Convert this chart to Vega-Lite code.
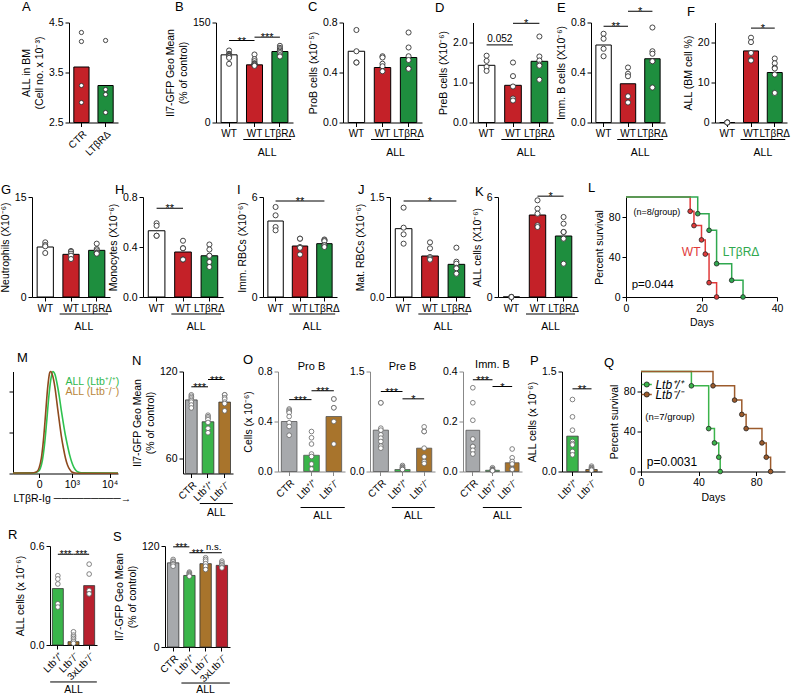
{
"$schema":"https://vega.github.io/schema/vega-lite/v6.json",
"autosize":{"type":"none"},
"padding":{"left":13,"top":22.5,"right":785,"bottom":671.5},
"background":"white",
"bounds":"flush",
"spacing":174.5,
"resolve":{"scale":{"color":"independent","fill":"independent","stroke":"independent"}},
"config":{
"font":"Liberation Sans",
"view":{"stroke":null},
"axis":{"grid":false,"domainColor":"black","tickColor":"black","labelColor":"black","titleColor":"black","labelFontSize":10.5,"titleFontSize":10.5,"titleFontWeight":"normal","tickSize":4,"labelPadding":2,"titlePadding":4,"labelFlush":false,"labelOverlap":false,"labelFont":"Liberation Sans","titleFont":"Liberation Sans"},
"axisBand":{"labelFontSize":10},
"title":{"anchor":"start","frame":"group","fontSize":13,"fontWeight":"normal","offset":3,"color":"black","font":"Liberation Sans"},
"text":{"font":"Liberation Sans","color":"black"},
"rule":{"color":"black"},
"legend":{"labelFont":"Liberation Sans"}
},
"vconcat":[
{"bounds":"flush","spacing":0,"resolve":{"scale":{"color":"independent","fill":"independent","stroke":"independent"}},
"hconcat":[
{"width":56,"height":1,"data":{"values":[]},"mark":"point"},
{"width":49,"height":100,"title":{"text":"A","dx":-47,"dy":-1},
"encoding":{"x":{"field":"g","type":"nominal","scale":{"domain":["CTR","LTβRΔ"],"paddingInner":0.37,"paddingOuter":0.2},"axis":{"title":null,"labelAngle":-45}}},
"layer":[
{"data":{"values":[{"g":"CTR","v":3.61},{"g":"LTβRΔ","v":3.24}]},"mark":{"type":"bar","stroke":"black","strokeWidth":1},
"encoding":{"y":{"field":"v","type":"quantitative","scale":{"domain":[2.5,4.5],"nice":false,"zero":false},"axis":{"values":[2.5,3,3.5,4,4.5],"format":".1f","title":["ALL in BM","(Cell no. x 10⁻³)"]}},"y2":{"datum":2.5},
"color":{"field":"g","type":"nominal","scale":{"domain":["CTR","LTβRΔ"],"range":["#c42128","#1e8e3e"]},"legend":null}}},
{"data":{"values":[{"g":"CTR","v":4.3},{"g":"CTR","v":4.12},{"g":"CTR","v":3.24},{"g":"CTR","v":2.9},{"g":"LTβRΔ","v":4.14},{"g":"LTβRΔ","v":3.16},{"g":"LTβRΔ","v":3.06},{"g":"LTβRΔ","v":2.7}]},
"mark":{"type":"point","fill":"white","stroke":"#333","strokeWidth":0.9,"size":18,"opacity":1},"encoding":{"y":{"field":"v","type":"quantitative"}}}
]},
{"width":98,"height":1,"data":{"values":[]},"mark":"point"},
{"width":77,"height":100,"title":{"text":"B","dx":-41,"dy":-1},
"encoding":{"x":{"field":"g","type":"nominal","scale":{"domain":["WT","ALL WT","ALL LTβRΔ"],"paddingInner":0.37,"paddingOuter":0.2},"axis":{"title":null,"labelAngle":0,"labelExpr":"replace(datum.label, 'ALL ', '')"}}},
"layer":[
{"data":{"values":[{"g":"WT","v":101.5},{"g":"ALL WT","v":86.5},{"g":"ALL LTβRΔ","v":106.5}]},"mark":{"type":"bar","stroke":"black","strokeWidth":1},
"encoding":{"y":{"field":"v","type":"quantitative","scale":{"domain":[0,150],"nice":false},"axis":{"values":[0,50,100,150],"title":["Il7-GFP Geo Mean","(% of control)"]}},
"color":{"field":"g","type":"nominal","scale":{"domain":["WT","ALL WT","ALL LTβRΔ"],"range":["white","#c42128","#1e8e3e"]},"legend":null}}},
{"data":{"values":[{"g":"WT","v":108},{"g":"WT","v":103},{"g":"WT","v":102},{"g":"WT","v":101},{"g":"WT","v":100},{"g":"WT","v":99},{"g":"WT","v":97},{"g":"WT","v":88},
{"g":"ALL WT","v":102},{"g":"ALL WT","v":95},{"g":"ALL WT","v":92},{"g":"ALL WT","v":89},{"g":"ALL WT","v":88},{"g":"ALL WT","v":87},{"g":"ALL WT","v":86},{"g":"ALL WT","v":85},
{"g":"ALL LTβRΔ","v":115},{"g":"ALL LTβRΔ","v":112},{"g":"ALL LTβRΔ","v":110},{"g":"ALL LTβRΔ","v":108},{"g":"ALL LTβRΔ","v":106},{"g":"ALL LTβRΔ","v":104},{"g":"ALL LTβRΔ","v":101},{"g":"ALL LTβRΔ","v":99}]},
"mark":{"type":"point","fill":"white","stroke":"#333","strokeWidth":0.9,"size":26,"opacity":1},"encoding":{"y":{"field":"v","type":"quantitative"}}},
{"data":{"values":[{"g":"WT","g2":"ALL WT","v":123,"t":"**"},{"g":"ALL WT","g2":"ALL LTβRΔ","v":128,"t":"***"}]},"mark":{"type":"rule","color":"black"},"encoding":{"x2":{"field":"g2"},"y":{"field":"v","type":"quantitative"}}},
{"data":{"values":[{"g":"WT","g2":"ALL WT","v":123,"t":"**"},{"g":"ALL WT","g2":"ALL LTβRΔ","v":128,"t":"***"}]},"mark":{"type":"text","baseline":"alphabetic","dy":4,"fontSize":11},
"encoding":{"x":{"field":"g","type":"nominal","bandPosition":1.294,"scale":{"domain":["WT","ALL WT","ALL LTβRΔ"],"paddingInner":0.37,"paddingOuter":0.2},"axis":{"title":null,"labelAngle":0,"labelExpr":"replace(datum.label, 'ALL ', '')"}},"y":{"field":"v","type":"quantitative"},"text":{"field":"t"}}},
{"data":{"values":[{"g":"ALL WT","g2":"ALL LTβRΔ"}]},"mark":{"type":"rule","color":"black"},
"encoding":{"x":{"field":"g","type":"nominal","bandPosition":-0.2,"scale":{"domain":["WT","ALL WT","ALL LTβRΔ"],"paddingInner":0.37,"paddingOuter":0.2},"axis":{"title":null,"labelAngle":0,"labelExpr":"replace(datum.label, 'ALL ', '')"}},"x2":{"field":"g2","bandPosition":1.2},"y":{"datum":-25.5}}},
{"data":{"values":[{"g":"ALL WT"}]},"mark":{"type":"text","baseline":"middle","fontSize":10.5},
"encoding":{"x":{"field":"g","type":"nominal","bandPosition":1.294,"scale":{"domain":["WT","ALL WT","ALL LTβRΔ"],"paddingInner":0.37,"paddingOuter":0.2},"axis":{"title":null,"labelAngle":0,"labelExpr":"replace(datum.label, 'ALL ', '')"}},"y":{"datum":-45},"text":{"value":"ALL"}}}
]},
{"width":50,"height":1,"data":{"values":[]},"mark":"point"},
{"width":79,"height":100,"title":{"text":"C","dx":-35,"dy":-1},
"encoding":{"x":{"field":"g","type":"nominal","scale":{"domain":["WT","ALL WT","ALL LTβRΔ"],"paddingInner":0.37,"paddingOuter":0.2},"axis":{"title":null,"labelAngle":0,"labelExpr":"replace(datum.label, 'ALL ', '')"}}},
"layer":[
{"data":{"values":[{"g":"WT","v":0.57},{"g":"ALL WT","v":0.44},{"g":"ALL LTβRΔ","v":0.52}]},"mark":{"type":"bar","stroke":"black","strokeWidth":1},
"encoding":{"y":{"field":"v","type":"quantitative","scale":{"domain":[0,0.8],"nice":false},"axis":{"values":[0,0.2,0.4,0.6,0.8],"format":".1f","title":"ProB cells (x10⁻⁵)"}},
"color":{"field":"g","type":"nominal","scale":{"domain":["WT","ALL WT","ALL LTβRΔ"],"range":["white","#c42128","#1e8e3e"]},"legend":null}}},
{"data":{"values":[{"g":"WT","v":0.74},{"g":"WT","v":0.57},{"g":"WT","v":0.48},{"g":"WT","v":0.48},
{"g":"ALL WT","v":0.53},{"g":"ALL WT","v":0.52},{"g":"ALL WT","v":0.47},{"g":"ALL WT","v":0.45},{"g":"ALL WT","v":0.41},
{"g":"ALL LTβRΔ","v":0.72},{"g":"ALL LTβRΔ","v":0.6},{"g":"ALL LTβRΔ","v":0.53},{"g":"ALL LTβRΔ","v":0.5},{"g":"ALL LTβRΔ","v":0.43},{"g":"ALL LTβRΔ","v":0.43}]},
"mark":{"type":"point","fill":"white","stroke":"#333","strokeWidth":0.9,"size":26,"opacity":1},"encoding":{"y":{"field":"v","type":"quantitative"}}},
{"data":{"values":[{"g":"ALL WT","g2":"ALL LTβRΔ"}]},"mark":{"type":"rule","color":"black"},
"encoding":{"x":{"field":"g","type":"nominal","bandPosition":-0.2,"scale":{"domain":["WT","ALL WT","ALL LTβRΔ"],"paddingInner":0.37,"paddingOuter":0.2},"axis":{"title":null,"labelAngle":0,"labelExpr":"replace(datum.label, 'ALL ', '')"}},"x2":{"field":"g2","bandPosition":1.2},"y":{"datum":-0.136}}},
{"data":{"values":[{"g":"ALL WT"}]},"mark":{"type":"text","baseline":"middle","fontSize":10.5},
"encoding":{"x":{"field":"g","type":"nominal","bandPosition":1.294,"scale":{"domain":["WT","ALL WT","ALL LTβRΔ"],"paddingInner":0.37,"paddingOuter":0.2},"axis":{"title":null,"labelAngle":0,"labelExpr":"replace(datum.label, 'ALL ', '')"}},"y":{"datum":-0.24},"text":{"value":"ALL"}}}
]},
{"width":51,"height":1,"data":{"values":[]},"mark":"point"},
{"width":80,"height":100,"title":{"text":"D","dx":-38,"dy":0},
"encoding":{"x":{"field":"g","type":"nominal","scale":{"domain":["WT","ALL WT","ALL LTβRΔ"],"paddingInner":0.37,"paddingOuter":0.2},"axis":{"title":null,"labelAngle":0,"labelExpr":"replace(datum.label, 'ALL ', '')"}}},
"layer":[
{"data":{"values":[{"g":"WT","v":1.43},{"g":"ALL WT","v":0.93},{"g":"ALL LTβRΔ","v":1.53}]},"mark":{"type":"bar","stroke":"black","strokeWidth":1},
"encoding":{"y":{"field":"v","type":"quantitative","scale":{"domain":[0,2.5],"nice":false},"axis":{"values":[0,0.5,1,1.5,2,2.5],"format":".1f","title":"PreB cells (X10⁻⁶)"}},
"color":{"field":"g","type":"nominal","scale":{"domain":["WT","ALL WT","ALL LTβRΔ"],"range":["white","#c42128","#1e8e3e"]},"legend":null}}},
{"data":{"values":[{"g":"WT","v":1.67},{"g":"WT","v":1.54},{"g":"WT","v":1.39},{"g":"WT","v":1.29},
{"g":"ALL WT","v":1.5},{"g":"ALL WT","v":1.16},{"g":"ALL WT","v":0.9},{"g":"ALL WT","v":0.6},{"g":"ALL WT","v":0.55},
{"g":"ALL LTβRΔ","v":2.15},{"g":"ALL LTβRΔ","v":1.65},{"g":"ALL LTβRΔ","v":1.55},{"g":"ALL LTβRΔ","v":1.45},{"g":"ALL LTβRΔ","v":1.42},{"g":"ALL LTβRΔ","v":1.07}]},
"mark":{"type":"point","fill":"white","stroke":"#333","strokeWidth":0.9,"size":26,"opacity":1},"encoding":{"y":{"field":"v","type":"quantitative"}}},
{"data":{"values":[{"g":"WT","g2":"ALL WT","v":1.94,"t":"0.052"},{"g":"ALL WT","g2":"ALL LTβRΔ","v":2.48,"t":"*"}]},"mark":{"type":"rule","color":"black"},"encoding":{"x2":{"field":"g2"},"y":{"field":"v","type":"quantitative"}}},
{"data":{"values":[{"g":"WT","g2":"ALL WT","v":1.94,"t":"0.052"},{"g":"ALL WT","g2":"ALL LTβRΔ","v":2.48,"t":"*"}]},"transform":[{"filter":"datum.t == '*'"}],"mark":{"type":"text","baseline":"alphabetic","dy":4,"fontSize":11},
"encoding":{"x":{"field":"g","type":"nominal","bandPosition":1.294,"scale":{"domain":["WT","ALL WT","ALL LTβRΔ"],"paddingInner":0.37,"paddingOuter":0.2},"axis":{"title":null,"labelAngle":0,"labelExpr":"replace(datum.label, 'ALL ', '')"}},"y":{"field":"v","type":"quantitative"},"text":{"field":"t"}}},
{"data":{"values":[{"g":"WT","g2":"ALL WT","v":1.94,"t":"0.052"},{"g":"ALL WT","g2":"ALL LTβRΔ","v":2.48,"t":"*"}]},"transform":[{"filter":"datum.t != '*'"}],"mark":{"type":"text","baseline":"bottom","dy":-1,"fontSize":10},
"encoding":{"x":{"field":"g","type":"nominal","bandPosition":1.294,"scale":{"domain":["WT","ALL WT","ALL LTβRΔ"],"paddingInner":0.37,"paddingOuter":0.2},"axis":{"title":null,"labelAngle":0,"labelExpr":"replace(datum.label, 'ALL ', '')"}},"y":{"field":"v","type":"quantitative"},"text":{"field":"t"}}},
{"data":{"values":[{"g":"ALL WT","g2":"ALL LTβRΔ"}]},"mark":{"type":"rule","color":"black"},
"encoding":{"x":{"field":"g","type":"nominal","bandPosition":-0.2,"scale":{"domain":["WT","ALL WT","ALL LTβRΔ"],"paddingInner":0.37,"paddingOuter":0.2},"axis":{"title":null,"labelAngle":0,"labelExpr":"replace(datum.label, 'ALL ', '')"}},"x2":{"field":"g2","bandPosition":1.2},"y":{"datum":-0.425}}},
{"data":{"values":[{"g":"ALL WT"}]},"mark":{"type":"text","baseline":"middle","fontSize":10.5},
"encoding":{"x":{"field":"g","type":"nominal","bandPosition":1.294,"scale":{"domain":["WT","ALL WT","ALL LTβRΔ"],"paddingInner":0.37,"paddingOuter":0.2},"axis":{"title":null,"labelAngle":0,"labelExpr":"replace(datum.label, 'ALL ', '')"}},"y":{"datum":-0.75},"text":{"value":"ALL"}}}
]},
{"width":38,"height":1,"data":{"values":[]},"mark":"point"},
{"width":74,"height":100,"title":{"text":"E","dx":-34,"dy":12},
"encoding":{"x":{"field":"g","type":"nominal","scale":{"domain":["WT","ALL WT","ALL LTβRΔ"],"paddingInner":0.37,"paddingOuter":0.2},"axis":{"title":null,"labelAngle":0,"labelExpr":"replace(datum.label, 'ALL ', '')"}}},
"layer":[
{"data":{"values":[{"g":"WT","v":0.62},{"g":"ALL WT","v":0.31},{"g":"ALL LTβRΔ","v":0.51}]},"mark":{"type":"bar","stroke":"black","strokeWidth":1},
"encoding":{"y":{"field":"v","type":"quantitative","scale":{"domain":[0,0.8],"nice":false},"axis":{"values":[0,0.2,0.4,0.6,0.8],"format":".1f","title":"Imm. B cells (X10⁻⁶)"}},
"color":{"field":"g","type":"nominal","scale":{"domain":["WT","ALL WT","ALL LTβRΔ"],"range":["white","#c42128","#1e8e3e"]},"legend":null}}},
{"data":{"values":[{"g":"WT","v":0.71},{"g":"WT","v":0.67},{"g":"WT","v":0.59},{"g":"WT","v":0.53},
{"g":"ALL WT","v":0.44},{"g":"ALL WT","v":0.39},{"g":"ALL WT","v":0.37},{"g":"ALL WT","v":0.21},{"g":"ALL WT","v":0.16},
{"g":"ALL LTβRΔ","v":0.76},{"g":"ALL LTβRΔ","v":0.57},{"g":"ALL LTβRΔ","v":0.55},{"g":"ALL LTβRΔ","v":0.49},{"g":"ALL LTβRΔ","v":0.49},{"g":"ALL LTβRΔ","v":0.28}]},
"mark":{"type":"point","fill":"white","stroke":"#333","strokeWidth":0.9,"size":26,"opacity":1},"encoding":{"y":{"field":"v","type":"quantitative"}}},
{"data":{"values":[{"g":"WT","g2":"ALL WT","v":0.77,"t":"**"},{"g":"ALL WT","g2":"ALL LTβRΔ","v":0.89,"t":"*"}]},"mark":{"type":"rule","color":"black"},"encoding":{"x2":{"field":"g2"},"y":{"field":"v","type":"quantitative"}}},
{"data":{"values":[{"g":"WT","g2":"ALL WT","v":0.77,"t":"**"},{"g":"ALL WT","g2":"ALL LTβRΔ","v":0.89,"t":"*"}]},"mark":{"type":"text","baseline":"alphabetic","dy":4,"fontSize":11},
"encoding":{"x":{"field":"g","type":"nominal","bandPosition":1.294,"scale":{"domain":["WT","ALL WT","ALL LTβRΔ"],"paddingInner":0.37,"paddingOuter":0.2},"axis":{"title":null,"labelAngle":0,"labelExpr":"replace(datum.label, 'ALL ', '')"}},"y":{"field":"v","type":"quantitative"},"text":{"field":"t"}}},
{"data":{"values":[{"g":"ALL WT","g2":"ALL LTβRΔ"}]},"mark":{"type":"rule","color":"black"},
"encoding":{"x":{"field":"g","type":"nominal","bandPosition":-0.2,"scale":{"domain":["WT","ALL WT","ALL LTβRΔ"],"paddingInner":0.37,"paddingOuter":0.2},"axis":{"title":null,"labelAngle":0,"labelExpr":"replace(datum.label, 'ALL ', '')"}},"x2":{"field":"g2","bandPosition":1.2},"y":{"datum":-0.136}}},
{"data":{"values":[{"g":"ALL WT"}]},"mark":{"type":"text","baseline":"middle","fontSize":10.5},
"encoding":{"x":{"field":"g","type":"nominal","bandPosition":1.294,"scale":{"domain":["WT","ALL WT","ALL LTβRΔ"],"paddingInner":0.37,"paddingOuter":0.2},"axis":{"title":null,"labelAngle":0,"labelExpr":"replace(datum.label, 'ALL ', '')"}},"y":{"datum":-0.24},"text":{"value":"ALL"}}}
]},
{"width":50,"height":1,"data":{"values":[]},"mark":"point"},
{"width":72,"height":100,"title":{"text":"F","dx":-28,"dy":-1},
"encoding":{"x":{"field":"g","type":"nominal","scale":{"domain":["WT","ALL WT","ALL LTβRΔ"],"paddingInner":0.37,"paddingOuter":0.2},"axis":{"title":null,"labelAngle":0,"labelExpr":"replace(datum.label, 'ALL ', '')"}}},
"layer":[
{"data":{"values":[{"g":"WT","v":0},{"g":"ALL WT","v":17.9},{"g":"ALL LTβRΔ","v":12.5}]},"mark":{"type":"bar","stroke":"black","strokeWidth":1},
"encoding":{"y":{"field":"v","type":"quantitative","scale":{"domain":[0,25],"nice":false},"axis":{"values":[0,5,10,15,20,25],"title":"ALL (BM cell %)"}},
"color":{"field":"g","type":"nominal","scale":{"domain":["WT","ALL WT","ALL LTβRΔ"],"range":["white","#c42128","#1e8e3e"]},"legend":null}}},
{"data":{"values":[{"g":"WT","v":0},{"g":"WT","v":0},{"g":"WT","v":0},{"g":"WT","v":0},
{"g":"ALL WT","v":21.2},{"g":"ALL WT","v":20.1},{"g":"ALL WT","v":17.4},{"g":"ALL WT","v":15.7},{"g":"ALL WT","v":15.5},
{"g":"ALL LTβRΔ","v":16},{"g":"ALL LTβRΔ","v":14.8},{"g":"ALL LTβRΔ","v":13.7},{"g":"ALL LTβRΔ","v":13.5},{"g":"ALL LTβRΔ","v":12},{"g":"ALL LTβRΔ","v":7.4}]},
"mark":{"type":"point","fill":"white","stroke":"#333","strokeWidth":0.9,"size":26,"opacity":1},"encoding":{"y":{"field":"v","type":"quantitative"}}},
{"data":{"values":[{"g":"ALL WT","g2":"ALL LTβRΔ","v":23.6,"t":"*"}]},"mark":{"type":"rule","color":"black"},"encoding":{"x2":{"field":"g2"},"y":{"field":"v","type":"quantitative"}}},
{"data":{"values":[{"g":"ALL WT","g2":"ALL LTβRΔ","v":23.6,"t":"*"}]},"mark":{"type":"text","baseline":"alphabetic","dy":4,"fontSize":11},
"encoding":{"x":{"field":"g","type":"nominal","bandPosition":1.294,"scale":{"domain":["WT","ALL WT","ALL LTβRΔ"],"paddingInner":0.37,"paddingOuter":0.2},"axis":{"title":null,"labelAngle":0,"labelExpr":"replace(datum.label, 'ALL ', '')"}},"y":{"field":"v","type":"quantitative"},"text":{"field":"t"}}},
{"data":{"values":[{"g":"ALL WT","g2":"ALL LTβRΔ"}]},"mark":{"type":"rule","color":"black"},
"encoding":{"x":{"field":"g","type":"nominal","bandPosition":-0.2,"scale":{"domain":["WT","ALL WT","ALL LTβRΔ"],"paddingInner":0.37,"paddingOuter":0.2},"axis":{"title":null,"labelAngle":0,"labelExpr":"replace(datum.label, 'ALL ', '')"}},"x2":{"field":"g2","bandPosition":1.2},"y":{"datum":-4.25}}},
{"data":{"values":[{"g":"ALL WT"}]},"mark":{"type":"text","baseline":"middle","fontSize":10.5},
"encoding":{"x":{"field":"g","type":"nominal","bandPosition":1.294,"scale":{"domain":["WT","ALL WT","ALL LTβRΔ"],"paddingInner":0.37,"paddingOuter":0.2},"axis":{"title":null,"labelAngle":0,"labelExpr":"replace(datum.label, 'ALL ', '')"}},"y":{"datum":-7.5},"text":{"value":"ALL"}}}
]}
]},

{"bounds":"flush","spacing":0,"resolve":{"scale":{"color":"independent","fill":"independent","stroke":"independent"}},
"hconcat":[
{"width":19,"height":1,"data":{"values":[]},"mark":"point"},
{"width":78,"height":100,"title":{"text":"G","dx":-31,"dy":7.5},
"encoding":{"x":{"field":"g","type":"nominal","scale":{"domain":["WT","ALL WT","ALL LTβRΔ"],"paddingInner":0.37,"paddingOuter":0.2},"axis":{"title":null,"labelAngle":0,"labelExpr":"replace(datum.label, 'ALL ', '')"}}},
"layer":[
{"data":{"values":[{"g":"WT","v":7.5},{"g":"ALL WT","v":6.4},{"g":"ALL LTβRΔ","v":7.0}]},"mark":{"type":"bar","stroke":"black","strokeWidth":1},
"encoding":{"y":{"field":"v","type":"quantitative","scale":{"domain":[0,15],"nice":false},"axis":{"values":[0,5,10,15],"title":"Neutrophils (X10⁻⁶)"}},
"color":{"field":"g","type":"nominal","scale":{"domain":["WT","ALL WT","ALL LTβRΔ"],"range":["white","#c42128","#1e8e3e"]},"legend":null}}},
{"data":{"values":[{"g":"WT","v":8.2},{"g":"WT","v":7.8},{"g":"WT","v":7.6},{"g":"WT","v":6.6},
{"g":"ALL WT","v":6.9},{"g":"ALL WT","v":6.8},{"g":"ALL WT","v":6.5},{"g":"ALL WT","v":6.2},{"g":"ALL WT","v":5.7},
{"g":"ALL LTβRΔ","v":8.0},{"g":"ALL LTβRΔ","v":7.2},{"g":"ALL LTβRΔ","v":7.0},{"g":"ALL LTβRΔ","v":6.7},{"g":"ALL LTβRΔ","v":6.6},{"g":"ALL LTβRΔ","v":6.5}]},
"mark":{"type":"point","fill":"white","stroke":"#333","strokeWidth":0.9,"size":26,"opacity":1},"encoding":{"y":{"field":"v","type":"quantitative"}}},
{"data":{"values":[{"g":"ALL WT","g2":"ALL LTβRΔ"}]},"mark":{"type":"rule","color":"black"},
"encoding":{"x":{"field":"g","type":"nominal","bandPosition":-0.2,"scale":{"domain":["WT","ALL WT","ALL LTβRΔ"],"paddingInner":0.37,"paddingOuter":0.2},"axis":{"title":null,"labelAngle":0,"labelExpr":"replace(datum.label, 'ALL ', '')"}},"x2":{"field":"g2","bandPosition":1.2},"y":{"datum":-2.55}}},
{"data":{"values":[{"g":"ALL WT"}]},"mark":{"type":"text","baseline":"middle","fontSize":10.5},
"encoding":{"x":{"field":"g","type":"nominal","bandPosition":1.294,"scale":{"domain":["WT","ALL WT","ALL LTβRΔ"],"paddingInner":0.37,"paddingOuter":0.2},"axis":{"title":null,"labelAngle":0,"labelExpr":"replace(datum.label, 'ALL ', '')"}},"y":{"datum":-4.5},"text":{"value":"ALL"}}}
]},
{"width":33,"height":1,"data":{"values":[]},"mark":"point"},
{"width":80,"height":100,"title":{"text":"H","dx":-28,"dy":7.5},
"encoding":{"x":{"field":"g","type":"nominal","scale":{"domain":["WT","ALL WT","ALL LTβRΔ"],"paddingInner":0.37,"paddingOuter":0.2},"axis":{"title":null,"labelAngle":0,"labelExpr":"replace(datum.label, 'ALL ', '')"}}},
"layer":[
{"data":{"values":[{"g":"WT","v":0.53},{"g":"ALL WT","v":0.36},{"g":"ALL LTβRΔ","v":0.33}]},"mark":{"type":"bar","stroke":"black","strokeWidth":1},
"encoding":{"y":{"field":"v","type":"quantitative","scale":{"domain":[0,0.8],"nice":false},"axis":{"values":[0,0.2,0.4,0.6,0.8],"format":".1f","title":"Monocytes (X10⁻⁶)"}},
"color":{"field":"g","type":"nominal","scale":{"domain":["WT","ALL WT","ALL LTβRΔ"],"range":["white","#c42128","#1e8e3e"]},"legend":null}}},
{"data":{"values":[{"g":"WT","v":0.59},{"g":"WT","v":0.57},{"g":"WT","v":0.49},{"g":"WT","v":0.49},
{"g":"ALL WT","v":0.45},{"g":"ALL WT","v":0.39},{"g":"ALL WT","v":0.39},{"g":"ALL WT","v":0.3},{"g":"ALL WT","v":0.3},
{"g":"ALL LTβRΔ","v":0.42},{"g":"ALL LTβRΔ","v":0.38},{"g":"ALL LTβRΔ","v":0.33},{"g":"ALL LTβRΔ","v":0.33},{"g":"ALL LTβRΔ","v":0.28},{"g":"ALL LTβRΔ","v":0.24}]},
"mark":{"type":"point","fill":"white","stroke":"#333","strokeWidth":0.9,"size":26,"opacity":1},"encoding":{"y":{"field":"v","type":"quantitative"}}},
{"data":{"values":[{"g":"WT","g2":"ALL WT","v":0.71,"t":"**"}]},"mark":{"type":"rule","color":"black"},"encoding":{"x2":{"field":"g2"},"y":{"field":"v","type":"quantitative"}}},
{"data":{"values":[{"g":"WT","g2":"ALL WT","v":0.71,"t":"**"}]},"mark":{"type":"text","baseline":"alphabetic","dy":4,"fontSize":11},
"encoding":{"x":{"field":"g","type":"nominal","bandPosition":1.294,"scale":{"domain":["WT","ALL WT","ALL LTβRΔ"],"paddingInner":0.37,"paddingOuter":0.2},"axis":{"title":null,"labelAngle":0,"labelExpr":"replace(datum.label, 'ALL ', '')"}},"y":{"field":"v","type":"quantitative"},"text":{"field":"t"}}},
{"data":{"values":[{"g":"ALL WT","g2":"ALL LTβRΔ"}]},"mark":{"type":"rule","color":"black"},
"encoding":{"x":{"field":"g","type":"nominal","bandPosition":-0.2,"scale":{"domain":["WT","ALL WT","ALL LTβRΔ"],"paddingInner":0.37,"paddingOuter":0.2},"axis":{"title":null,"labelAngle":0,"labelExpr":"replace(datum.label, 'ALL ', '')"}},"x2":{"field":"g2","bandPosition":1.2},"y":{"datum":-0.136}}},
{"data":{"values":[{"g":"ALL WT"}]},"mark":{"type":"text","baseline":"middle","fontSize":10.5},
"encoding":{"x":{"field":"g","type":"nominal","bandPosition":1.294,"scale":{"domain":["WT","ALL WT","ALL LTβRΔ"],"paddingInner":0.37,"paddingOuter":0.2},"axis":{"title":null,"labelAngle":0,"labelExpr":"replace(datum.label, 'ALL ', '')"}},"y":{"datum":-0.24},"text":{"value":"ALL"}}}
]},
{"width":40,"height":1,"data":{"values":[]},"mark":"point"},
{"width":74,"height":100,"title":{"text":"I","dx":-26,"dy":7.5},
"encoding":{"x":{"field":"g","type":"nominal","scale":{"domain":["WT","ALL WT","ALL LTβRΔ"],"paddingInner":0.37,"paddingOuter":0.2},"axis":{"title":null,"labelAngle":0,"labelExpr":"replace(datum.label, 'ALL ', '')"}}},
"layer":[
{"data":{"values":[{"g":"WT","v":4.56},{"g":"ALL WT","v":3.06},{"g":"ALL LTβRΔ","v":3.2}]},"mark":{"type":"bar","stroke":"black","strokeWidth":1},
"encoding":{"y":{"field":"v","type":"quantitative","scale":{"domain":[0,6],"nice":false},"axis":{"values":[0,2,4,6],"title":"Imm. RBCs (X10⁻⁶)"}},
"color":{"field":"g","type":"nominal","scale":{"domain":["WT","ALL WT","ALL LTβRΔ"],"range":["white","#c42128","#1e8e3e"]},"legend":null}}},
{"data":{"values":[{"g":"WT","v":5.4},{"g":"WT","v":4.9},{"g":"WT","v":4.2},{"g":"WT","v":4.0},
{"g":"ALL WT","v":3.5},{"g":"ALL WT","v":3.5},{"g":"ALL WT","v":3.0},{"g":"ALL WT","v":2.95},{"g":"ALL WT","v":2.55},
{"g":"ALL LTβRΔ","v":3.45},{"g":"ALL LTβRΔ","v":3.4},{"g":"ALL LTβRΔ","v":3.35},{"g":"ALL LTβRΔ","v":3.1},{"g":"ALL LTβRΔ","v":3.1},{"g":"ALL LTβRΔ","v":3.0}]},
"mark":{"type":"point","fill":"white","stroke":"#333","strokeWidth":0.9,"size":26,"opacity":1},"encoding":{"y":{"field":"v","type":"quantitative"}}},
{"data":{"values":[{"g":"WT","g2":"ALL LTβRΔ","v":5.76}]},"mark":{"type":"rule","color":"black"},"encoding":{"x2":{"field":"g2"},"y":{"field":"v","type":"quantitative"}}},
{"data":{"values":[{"g":"ALL WT","v":5.76,"t":"**"}]},"mark":{"type":"text","baseline":"alphabetic","dy":4,"fontSize":11},"encoding":{"y":{"field":"v","type":"quantitative"},"text":{"field":"t"}}},
{"data":{"values":[{"g":"ALL WT","g2":"ALL LTβRΔ"}]},"mark":{"type":"rule","color":"black"},
"encoding":{"x":{"field":"g","type":"nominal","bandPosition":-0.2,"scale":{"domain":["WT","ALL WT","ALL LTβRΔ"],"paddingInner":0.37,"paddingOuter":0.2},"axis":{"title":null,"labelAngle":0,"labelExpr":"replace(datum.label, 'ALL ', '')"}},"x2":{"field":"g2","bandPosition":1.2},"y":{"datum":-1.02}}},
{"data":{"values":[{"g":"ALL WT"}]},"mark":{"type":"text","baseline":"middle","fontSize":10.5},
"encoding":{"x":{"field":"g","type":"nominal","bandPosition":1.294,"scale":{"domain":["WT","ALL WT","ALL LTβRΔ"],"paddingInner":0.37,"paddingOuter":0.2},"axis":{"title":null,"labelAngle":0,"labelExpr":"replace(datum.label, 'ALL ', '')"}},"y":{"datum":-1.8},"text":{"value":"ALL"}}}
]},
{"width":53,"height":1,"data":{"values":[]},"mark":"point"},
{"width":80,"height":100,"title":{"text":"J","dx":-32,"dy":7.5},
"encoding":{"x":{"field":"g","type":"nominal","scale":{"domain":["WT","ALL WT","ALL LTβRΔ"],"paddingInner":0.37,"paddingOuter":0.2},"axis":{"title":null,"labelAngle":0,"labelExpr":"replace(datum.label, 'ALL ', '')"}}},
"layer":[
{"data":{"values":[{"g":"WT","v":1.025},{"g":"ALL WT","v":0.615},{"g":"ALL LTβRΔ","v":0.49}]},"mark":{"type":"bar","stroke":"black","strokeWidth":1},
"encoding":{"y":{"field":"v","type":"quantitative","scale":{"domain":[0,1.5],"nice":false},"axis":{"values":[0,0.5,1,1.5],"format":".1f","title":"Mat. RBCs (X10⁻⁶)"}},
"color":{"field":"g","type":"nominal","scale":{"domain":["WT","ALL WT","ALL LTβRΔ"],"range":["white","#c42128","#1e8e3e"]},"legend":null}}},
{"data":{"values":[{"g":"WT","v":1.34},{"g":"WT","v":1.04},{"g":"WT","v":0.94},{"g":"WT","v":0.8},
{"g":"ALL WT","v":0.82},{"g":"ALL WT","v":0.73},{"g":"ALL WT","v":0.6},{"g":"ALL WT","v":0.58},{"g":"ALL WT","v":0.56},
{"g":"ALL LTβRΔ","v":0.74},{"g":"ALL LTβRΔ","v":0.53},{"g":"ALL LTβRΔ","v":0.5},{"g":"ALL LTβRΔ","v":0.44},{"g":"ALL LTβRΔ","v":0.43},{"g":"ALL LTβRΔ","v":0.35}]},
"mark":{"type":"point","fill":"white","stroke":"#333","strokeWidth":0.9,"size":26,"opacity":1},"encoding":{"y":{"field":"v","type":"quantitative"}}},
{"data":{"values":[{"g":"WT","g2":"ALL LTβRΔ","v":1.44}]},"mark":{"type":"rule","color":"black"},"encoding":{"x2":{"field":"g2"},"y":{"field":"v","type":"quantitative"}}},
{"data":{"values":[{"g":"ALL WT","v":1.44,"t":"*"}]},"mark":{"type":"text","baseline":"alphabetic","dy":4,"fontSize":11},"encoding":{"y":{"field":"v","type":"quantitative"},"text":{"field":"t"}}},
{"data":{"values":[{"g":"ALL WT","g2":"ALL LTβRΔ"}]},"mark":{"type":"rule","color":"black"},
"encoding":{"x":{"field":"g","type":"nominal","bandPosition":-0.2,"scale":{"domain":["WT","ALL WT","ALL LTβRΔ"],"paddingInner":0.37,"paddingOuter":0.2},"axis":{"title":null,"labelAngle":0,"labelExpr":"replace(datum.label, 'ALL ', '')"}},"x2":{"field":"g2","bandPosition":1.2},"y":{"datum":-0.255}}},
{"data":{"values":[{"g":"ALL WT"}]},"mark":{"type":"text","baseline":"middle","fontSize":10.5},
"encoding":{"x":{"field":"g","type":"nominal","bandPosition":1.294,"scale":{"domain":["WT","ALL WT","ALL LTβRΔ"],"paddingInner":0.37,"paddingOuter":0.2},"axis":{"title":null,"labelAngle":0,"labelExpr":"replace(datum.label, 'ALL ', '')"}},"y":{"datum":-0.45},"text":{"value":"ALL"}}}
]},
{"width":28,"height":1,"data":{"values":[]},"mark":"point"},
{"width":79,"height":100,"title":{"text":"K","dx":-23,"dy":10.5},
"encoding":{"x":{"field":"g","type":"nominal","scale":{"domain":["WT","ALL WT","ALL LTβRΔ"],"paddingInner":0.37,"paddingOuter":0.2},"axis":{"title":null,"labelAngle":0,"labelExpr":"replace(datum.label, 'ALL ', '')"}}},
"layer":[
{"data":{"values":[{"g":"WT","v":0},{"g":"ALL WT","v":4.92},{"g":"ALL LTβRΔ","v":3.66}]},"mark":{"type":"bar","stroke":"black","strokeWidth":1},
"encoding":{"y":{"field":"v","type":"quantitative","scale":{"domain":[0,6],"nice":false},"axis":{"values":[0,2,4,6],"title":"ALL cells (X10⁻⁶)"}},
"color":{"field":"g","type":"nominal","scale":{"domain":["WT","ALL WT","ALL LTβRΔ"],"range":["white","#c42128","#1e8e3e"]},"legend":null}}},
{"data":{"values":[{"g":"WT","v":0},{"g":"WT","v":0},{"g":"WT","v":0},{"g":"WT","v":0},
{"g":"ALL WT","v":5.8},{"g":"ALL WT","v":5.3},{"g":"ALL WT","v":5.0},{"g":"ALL WT","v":4.3},{"g":"ALL WT","v":4.2},
{"g":"ALL LTβRΔ","v":4.8},{"g":"ALL LTβRΔ","v":4.4},{"g":"ALL LTβRΔ","v":3.9},{"g":"ALL LTβRΔ","v":3.9},{"g":"ALL LTβRΔ","v":3.5},{"g":"ALL LTβRΔ","v":2.0}]},
"mark":{"type":"point","fill":"white","stroke":"#333","strokeWidth":0.9,"size":26,"opacity":1},"encoding":{"y":{"field":"v","type":"quantitative"}}},
{"data":{"values":[{"g":"ALL WT","g2":"ALL LTβRΔ","v":6.05,"t":"*"}]},"mark":{"type":"rule","color":"black"},"encoding":{"x2":{"field":"g2"},"y":{"field":"v","type":"quantitative"}}},
{"data":{"values":[{"g":"ALL WT","g2":"ALL LTβRΔ","v":6.05,"t":"*"}]},"mark":{"type":"text","baseline":"alphabetic","dy":4,"fontSize":11},
"encoding":{"x":{"field":"g","type":"nominal","bandPosition":1.294,"scale":{"domain":["WT","ALL WT","ALL LTβRΔ"],"paddingInner":0.37,"paddingOuter":0.2},"axis":{"title":null,"labelAngle":0,"labelExpr":"replace(datum.label, 'ALL ', '')"}},"y":{"field":"v","type":"quantitative"},"text":{"field":"t"}}},
{"data":{"values":[{"g":"ALL WT","g2":"ALL LTβRΔ"}]},"mark":{"type":"rule","color":"black"},
"encoding":{"x":{"field":"g","type":"nominal","bandPosition":-0.2,"scale":{"domain":["WT","ALL WT","ALL LTβRΔ"],"paddingInner":0.37,"paddingOuter":0.2},"axis":{"title":null,"labelAngle":0,"labelExpr":"replace(datum.label, 'ALL ', '')"}},"x2":{"field":"g2","bandPosition":1.2},"y":{"datum":-1.02}}},
{"data":{"values":[{"g":"ALL WT"}]},"mark":{"type":"text","baseline":"middle","fontSize":10.5},
"encoding":{"x":{"field":"g","type":"nominal","bandPosition":1.294,"scale":{"domain":["WT","ALL WT","ALL LTβRΔ"],"paddingInner":0.37,"paddingOuter":0.2},"axis":{"title":null,"labelAngle":0,"labelExpr":"replace(datum.label, 'ALL ', '')"}},"y":{"datum":-1.8},"text":{"value":"ALL"}}}
]},
{"width":49,"height":1,"data":{"values":[]},"mark":"point"},
{"width":151,"height":100,"title":{"text":"L","dx":-38,"dy":3.5},
"layer":[
{"data":{"values":[{"s":"WT","d":0,"p":100},{"s":"WT","d":17,"p":85.7},{"s":"WT","d":18,"p":71.4},{"s":"WT","d":20,"p":57.1},{"s":"WT","d":21,"p":42.9},{"s":"WT","d":22,"p":14.3},{"s":"WT","d":24,"p":0},
{"s":"LTβRΔ","d":0,"p":100},{"s":"LTβRΔ","d":19,"p":83.3},{"s":"LTβRΔ","d":22,"p":66.7},{"s":"LTβRΔ","d":24,"p":33.3},{"s":"LTβRΔ","d":28,"p":16.7},{"s":"LTβRΔ","d":31,"p":0}]},
"mark":{"type":"line","interpolate":"step-after","strokeWidth":1.5},
"encoding":{"x":{"field":"d","type":"quantitative","scale":{"domain":[0,40],"nice":false},"axis":{"values":[0,10,20,30,40],"title":"Days"}},
"y":{"field":"p","type":"quantitative","scale":{"domain":[0,100],"nice":false},"axis":{"values":[0,20,40,60,80,100],"title":"Percent survival"}},
"color":{"field":"s","type":"nominal","scale":{"domain":["WT","LTβRΔ"],"range":["#e03a3a","#2fa84f"]},"legend":null}}},
{"data":{"values":[{"s":"WT","d":17,"p":85.7},{"s":"WT","d":18,"p":71.4},{"s":"WT","d":20,"p":57.1},{"s":"WT","d":21,"p":42.9},{"s":"WT","d":22,"p":14.3},{"s":"WT","d":24,"p":0},
{"s":"LTβRΔ","d":19,"p":83.3},{"s":"LTβRΔ","d":22,"p":66.7},{"s":"LTβRΔ","d":24,"p":33.3},{"s":"LTβRΔ","d":28,"p":16.7},{"s":"LTβRΔ","d":31,"p":0}]},
"mark":{"type":"point","filled":true,"stroke":"#222","strokeWidth":0.8,"size":22,"opacity":1},
"encoding":{"x":{"field":"d","type":"quantitative"},"y":{"field":"p","type":"quantitative"},"fill":{"field":"s","type":"nominal","scale":{"domain":["WT","LTβRΔ"],"range":["#e03a3a","#2fa84f"]},"legend":null}}},
{"data":{"values":[{}]},"mark":{"type":"text","align":"left","baseline":"middle","fontSize":9},"encoding":{"x":{"datum":2},"y":{"datum":85},"text":{"value":"(n=8/group)"}}},
{"data":{"values":[{}]},"mark":{"type":"text","align":"left","baseline":"middle","fontSize":12,"color":"#e03a3a"},"encoding":{"x":{"datum":14.8},"y":{"datum":45},"text":{"value":"WT"}}},
{"data":{"values":[{}]},"mark":{"type":"text","align":"left","baseline":"middle","fontSize":12,"color":"#2fa84f"},"encoding":{"x":{"datum":25.6},"y":{"datum":45},"text":{"value":"LTβRΔ"}}},
{"data":{"values":[{}]},"mark":{"type":"text","align":"left","baseline":"middle","fontSize":11.5},"encoding":{"x":{"datum":1.5},"y":{"datum":12.5},"text":{"value":"p=0.044"}}}
]}
]},

{"bounds":"flush","spacing":0,"resolve":{"scale":{"color":"independent","fill":"independent","stroke":"independent"}},
"hconcat":[
{"width":105,"height":102,"title":{"text":"M","dx":4,"dy":-0.5},
"layer":[
{"data":{"values":[
{"s":"Ltb⁺/⁺","c":0,"n":0.5},{"s":"Ltb⁺/⁺","c":20,"n":0.6},{"s":"Ltb⁺/⁺","c":24,"n":2},{"s":"Ltb⁺/⁺","c":26,"n":5},{"s":"Ltb⁺/⁺","c":28,"n":13},{"s":"Ltb⁺/⁺","c":30,"n":28},{"s":"Ltb⁺/⁺","c":32,"n":50},{"s":"Ltb⁺/⁺","c":34,"n":74},{"s":"Ltb⁺/⁺","c":36,"n":92},{"s":"Ltb⁺/⁺","c":38,"n":100},{"s":"Ltb⁺/⁺","c":40,"n":97},{"s":"Ltb⁺/⁺","c":42,"n":88},{"s":"Ltb⁺/⁺","c":44,"n":76},{"s":"Ltb⁺/⁺","c":46,"n":62},{"s":"Ltb⁺/⁺","c":48,"n":49},{"s":"Ltb⁺/⁺","c":50,"n":37},{"s":"Ltb⁺/⁺","c":52,"n":27},{"s":"Ltb⁺/⁺","c":54,"n":18},{"s":"Ltb⁺/⁺","c":56,"n":11},{"s":"Ltb⁺/⁺","c":58,"n":6},{"s":"Ltb⁺/⁺","c":60,"n":3},{"s":"Ltb⁺/⁺","c":62,"n":1.5},{"s":"Ltb⁺/⁺","c":65,"n":0.6},{"s":"Ltb⁺/⁺","c":100,"n":0.4},
{"s":"Ltb⁻/⁻","c":0,"n":0.5},{"s":"Ltb⁻/⁻","c":15,"n":0.5},{"s":"Ltb⁻/⁻","c":20,"n":0.8},{"s":"Ltb⁻/⁻","c":23,"n":2},{"s":"Ltb⁻/⁻","c":25,"n":6},{"s":"Ltb⁻/⁻","c":27,"n":15},{"s":"Ltb⁻/⁻","c":29,"n":33},{"s":"Ltb⁻/⁻","c":31,"n":58},{"s":"Ltb⁻/⁻","c":33,"n":84},{"s":"Ltb⁻/⁻","c":35,"n":99},{"s":"Ltb⁻/⁻","c":36,"n":100},{"s":"Ltb⁻/⁻","c":38,"n":95},{"s":"Ltb⁻/⁻","c":40,"n":84},{"s":"Ltb⁻/⁻","c":42,"n":68},{"s":"Ltb⁻/⁻","c":44,"n":52},{"s":"Ltb⁻/⁻","c":46,"n":37},{"s":"Ltb⁻/⁻","c":48,"n":25},{"s":"Ltb⁻/⁻","c":50,"n":15},{"s":"Ltb⁻/⁻","c":52,"n":8},{"s":"Ltb⁻/⁻","c":54,"n":4},{"s":"Ltb⁻/⁻","c":56,"n":1.5},{"s":"Ltb⁻/⁻","c":59,"n":0.5},{"s":"Ltb⁻/⁻","c":65,"n":0.3},{"s":"Ltb⁻/⁻","c":100,"n":0.3}]},
"mark":{"type":"line","interpolate":"monotone","strokeWidth":1.6},
"encoding":{"x":{"field":"c","type":"quantitative","scale":{"domain":[0,100],"nice":false},"axis":{"values":[25,56,92],"labelExpr":"datum.value == 25 ? '0' : datum.value == 56 ? '10³' : '10⁴'","title":"LTβR-Ig ─────────→","titleAnchor":"start","titlePadding":3}},
"y":{"field":"n","type":"quantitative","scale":{"domain":[0,100],"nice":false},"axis":{"values":[0,20,40,60,80,100],"labels":false,"title":null}},
"stroke":{"field":"s","type":"nominal","scale":{"domain":["Ltb⁺/⁺","Ltb⁻/⁻"],"range":["#2fc24f","#8e4a1e"]},"legend":null}}},
{"data":{"values":[{}]},"mark":{"type":"text","align":"left","baseline":"middle","fontSize":10.5,"color":"#2fb84d"},"encoding":{"x":{"datum":50},"y":{"datum":90},"text":{"value":"ALL (Ltb⁺/⁺)"}}},
{"data":{"values":[{}]},"mark":{"type":"text","align":"left","baseline":"middle","fontSize":10.5,"color":"#b8863b"},"encoding":{"x":{"datum":50},"y":{"datum":80},"text":{"value":"ALL (Ltb⁻/⁻)"}}}
]},
{"width":65,"height":1,"data":{"values":[]},"mark":"point"},
{"width":50,"height":102,"title":{"text":"N","dx":-51,"dy":4},
"encoding":{"x":{"field":"g","type":"nominal","scale":{"domain":["CTR","Ltb⁺/⁺","Ltb⁻/⁻"],"paddingInner":0.3,"paddingOuter":0.15},"axis":{"title":null,"labelAngle":-45}}},
"layer":[
{"data":{"values":[{"g":"CTR","v":100.5},{"g":"Ltb⁺/⁺","v":85.5},{"g":"Ltb⁻/⁻","v":99}]},"mark":{"type":"bar","stroke":"#333","strokeWidth":0.8},
"encoding":{"y":{"field":"v","type":"quantitative","scale":{"domain":[50,120],"nice":false,"zero":false},"axis":{"values":[60,80,100,120],"title":["Il7-GFP Geo Mean","(% of control)"]}},"y2":{"datum":50},
"color":{"field":"g","type":"nominal","scale":{"domain":["CTR","Ltb⁺/⁺","Ltb⁻/⁻"],"range":["#a7a9ac","#3ab54a","#a8742c"]},"legend":null}}},
{"data":{"values":[{"g":"CTR","v":104},{"g":"CTR","v":103},{"g":"CTR","v":102},{"g":"CTR","v":101},{"g":"CTR","v":100},{"g":"CTR","v":99},{"g":"CTR","v":97},{"g":"CTR","v":95},
{"g":"Ltb⁺/⁺","v":90},{"g":"Ltb⁺/⁺","v":89},{"g":"Ltb⁺/⁺","v":88},{"g":"Ltb⁺/⁺","v":87},{"g":"Ltb⁺/⁺","v":85},{"g":"Ltb⁺/⁺","v":81},{"g":"Ltb⁺/⁺","v":78},
{"g":"Ltb⁻/⁻","v":104},{"g":"Ltb⁻/⁻","v":104},{"g":"Ltb⁻/⁻","v":102},{"g":"Ltb⁻/⁻","v":101},{"g":"Ltb⁻/⁻","v":99},{"g":"Ltb⁻/⁻","v":98},{"g":"Ltb⁻/⁻","v":93}]},
"mark":{"type":"point","fill":"white","stroke":"#666","strokeWidth":0.8,"size":22,"opacity":1},"encoding":{"y":{"field":"v","type":"quantitative"}}},
{"data":{"values":[{"g":"CTR","g2":"Ltb⁺/⁺","v":109.5,"t":"***"},{"g":"Ltb⁺/⁺","g2":"Ltb⁻/⁻","v":114.5,"t":"***"}]},"mark":{"type":"rule","color":"black"},"encoding":{"x2":{"field":"g2"},"y":{"field":"v","type":"quantitative"}}},
{"data":{"values":[{"g":"CTR","g2":"Ltb⁺/⁺","v":109.5,"t":"***"},{"g":"Ltb⁺/⁺","g2":"Ltb⁻/⁻","v":114.5,"t":"***"}]},"mark":{"type":"text","baseline":"alphabetic","dy":4,"fontSize":11},
"encoding":{"x":{"field":"g","type":"nominal","bandPosition":1.214,"scale":{"domain":["CTR","Ltb⁺/⁺","Ltb⁻/⁻"],"paddingInner":0.3,"paddingOuter":0.15},"axis":{"title":null,"labelAngle":-45}},"y":{"field":"v","type":"quantitative"},"text":{"field":"t"}}},
{"data":{"values":[{"g":"Ltb⁺/⁺","g2":"Ltb⁻/⁻"}]},"mark":{"type":"rule","color":"black"},
"encoding":{"x":{"field":"g","type":"nominal","bandPosition":-0.2,"scale":{"domain":["CTR","Ltb⁺/⁺","Ltb⁻/⁻"],"paddingInner":0.3,"paddingOuter":0.15},"axis":{"title":null,"labelAngle":-45}},"x2":{"field":"g2","bandPosition":1.2},"y":{"datum":29.4}}},
{"data":{"values":[{"g":"Ltb⁺/⁺"}]},"mark":{"type":"text","baseline":"middle","fontSize":10.5},
"encoding":{"x":{"field":"g","type":"nominal","bandPosition":1.214,"scale":{"domain":["CTR","Ltb⁺/⁺","Ltb⁻/⁻"],"paddingInner":0.3,"paddingOuter":0.15},"axis":{"title":null,"labelAngle":-45}},"y":{"datum":23.2},"text":{"value":"ALL"}}}
]},
{"width":45,"height":1,"data":{"values":[]},"mark":"point"},
{"width":67,"height":100,"title":{"text":"O","dx":-35,"dy":9.5},
"encoding":{"x":{"field":"g","type":"nominal","scale":{"domain":["CTR","Ltb⁺/⁺","Ltb⁻/⁻"],"paddingInner":0.3,"paddingOuter":0.15},"axis":{"title":null,"labelAngle":-45,"domainColor":"#888","tickColor":"#888"}}},
"layer":[
{"data":{"values":[{"g":"CTR","v":0.4},{"g":"Ltb⁺/⁺","v":0.13},{"g":"Ltb⁻/⁻","v":0.44}]},"mark":{"type":"bar","stroke":"#555","strokeWidth":0.8},
"encoding":{"y":{"field":"v","type":"quantitative","scale":{"domain":[0,0.8],"nice":false},"axis":{"values":[0,0.2,0.4,0.6,0.8],"format":".1f","title":"Cells (x 10⁻⁶)","domainColor":"#888","tickColor":"#888"}},
"color":{"field":"g","type":"nominal","scale":{"domain":["CTR","Ltb⁺/⁺","Ltb⁻/⁻"],"range":["#a7a9ac","#3ab54a","#a8742c"]},"legend":null}}},
{"data":{"values":[{"g":"CTR","v":0.5},{"g":"CTR","v":0.49},{"g":"CTR","v":0.48},{"g":"CTR","v":0.47},{"g":"CTR","v":0.44},{"g":"CTR","v":0.39},{"g":"CTR","v":0.36},{"g":"CTR","v":0.29},
{"g":"Ltb⁺/⁺","v":0.32},{"g":"Ltb⁺/⁺","v":0.27},{"g":"Ltb⁺/⁺","v":0.22},{"g":"Ltb⁺/⁺","v":0.14},{"g":"Ltb⁺/⁺","v":0.12},{"g":"Ltb⁺/⁺","v":0.06},{"g":"Ltb⁺/⁺","v":0.02},
{"g":"Ltb⁻/⁻","v":0.58},{"g":"Ltb⁻/⁻","v":0.58},{"g":"Ltb⁻/⁻","v":0.51},{"g":"Ltb⁻/⁻","v":0.51},{"g":"Ltb⁻/⁻","v":0.4},{"g":"Ltb⁻/⁻","v":0.22}]},
"mark":{"type":"point","fill":"white","stroke":"#666","strokeWidth":0.8,"size":22,"opacity":1},"encoding":{"y":{"field":"v","type":"quantitative"}}},
{"data":{"values":[{"g":"CTR","g2":"Ltb⁺/⁺","v":0.575,"t":"***"},{"g":"Ltb⁺/⁺","g2":"Ltb⁻/⁻","v":0.646,"t":"***"}]},"mark":{"type":"rule","color":"black"},"encoding":{"x2":{"field":"g2"},"y":{"field":"v","type":"quantitative"}}},
{"data":{"values":[{"g":"CTR","g2":"Ltb⁺/⁺","v":0.575,"t":"***"},{"g":"Ltb⁺/⁺","g2":"Ltb⁻/⁻","v":0.646,"t":"***"}]},"mark":{"type":"text","baseline":"alphabetic","dy":4,"fontSize":11},
"encoding":{"x":{"field":"g","type":"nominal","bandPosition":1.214,"scale":{"domain":["CTR","Ltb⁺/⁺","Ltb⁻/⁻"],"paddingInner":0.3,"paddingOuter":0.15},"axis":{"title":null,"labelAngle":-45,"domainColor":"#888","tickColor":"#888"}},"y":{"field":"v","type":"quantitative"},"text":{"field":"t"}}},
{"data":{"values":[{"g":"Ltb⁺/⁺"}]},"mark":{"type":"text","baseline":"middle","fontSize":11},"encoding":{"y":{"datum":0.84},"text":{"value":"Pro B"}}},
{"data":{"values":[{"g":"Ltb⁺/⁺","g2":"Ltb⁻/⁻"}]},"mark":{"type":"rule","color":"black"},
"encoding":{"x":{"field":"g","type":"nominal","bandPosition":-0.2,"scale":{"domain":["CTR","Ltb⁺/⁺","Ltb⁻/⁻"],"paddingInner":0.3,"paddingOuter":0.15},"axis":{"title":null,"labelAngle":-45,"domainColor":"#888","tickColor":"#888"}},"x2":{"field":"g2","bandPosition":1.2},"y":{"datum":-0.288}}},
{"data":{"values":[{"g":"Ltb⁺/⁺"}]},"mark":{"type":"text","baseline":"middle","fontSize":10.5},
"encoding":{"x":{"field":"g","type":"nominal","bandPosition":1.214,"scale":{"domain":["CTR","Ltb⁺/⁺","Ltb⁻/⁻"],"paddingInner":0.3,"paddingOuter":0.15},"axis":{"title":null,"labelAngle":-45,"domainColor":"#888","tickColor":"#888"}},"y":{"datum":-0.352},"text":{"value":"ALL"}}}
]},
{"width":25,"height":1,"data":{"values":[]},"mark":"point"},
{"width":65,"height":100,
"encoding":{"x":{"field":"g","type":"nominal","scale":{"domain":["CTR","Ltb⁺/⁺","Ltb⁻/⁻"],"paddingInner":0.3,"paddingOuter":0.15},"axis":{"title":null,"labelAngle":-45,"domainColor":"#888","tickColor":"#888"}}},
"layer":[
{"data":{"values":[{"g":"CTR","v":0.62},{"g":"Ltb⁺/⁺","v":0.03},{"g":"Ltb⁻/⁻","v":0.35}]},"mark":{"type":"bar","stroke":"#555","strokeWidth":0.8},
"encoding":{"y":{"field":"v","type":"quantitative","scale":{"domain":[0,1.5],"nice":false},"axis":{"values":[0,0.5,1,1.5],"format":".1f","title":null,"domainColor":"#888","tickColor":"#888"}},
"color":{"field":"g","type":"nominal","scale":{"domain":["CTR","Ltb⁺/⁺","Ltb⁻/⁻"],"range":["#a7a9ac","#3ab54a","#a8742c"]},"legend":null}}},
{"data":{"values":[{"g":"CTR","v":1.03},{"g":"CTR","v":1.03},{"g":"CTR","v":0.65},{"g":"CTR","v":0.62},{"g":"CTR","v":0.55},{"g":"CTR","v":0.5},{"g":"CTR","v":0.45},{"g":"CTR","v":0.38},{"g":"CTR","v":0.35},
{"g":"Ltb⁺/⁺","v":0.09},{"g":"Ltb⁺/⁺","v":0.07},{"g":"Ltb⁺/⁺","v":0.06},{"g":"Ltb⁺/⁺","v":0.05},{"g":"Ltb⁺/⁺","v":0.04},{"g":"Ltb⁺/⁺","v":0.03},{"g":"Ltb⁺/⁺","v":0.03},
{"g":"Ltb⁻/⁻","v":0.67},{"g":"Ltb⁻/⁻","v":0.6},{"g":"Ltb⁻/⁻","v":0.6},{"g":"Ltb⁻/⁻","v":0.35},{"g":"Ltb⁻/⁻","v":0.22},{"g":"Ltb⁻/⁻","v":0.15},{"g":"Ltb⁻/⁻","v":0.12}]},
"mark":{"type":"point","fill":"white","stroke":"#666","strokeWidth":0.8,"size":22,"opacity":1},"encoding":{"y":{"field":"v","type":"quantitative"}}},
{"data":{"values":[{"g":"CTR","g2":"Ltb⁺/⁺","v":1.2,"t":"***"},{"g":"Ltb⁺/⁺","g2":"Ltb⁻/⁻","v":1.09,"t":"*"}]},"mark":{"type":"rule","color":"black"},"encoding":{"x2":{"field":"g2"},"y":{"field":"v","type":"quantitative"}}},
{"data":{"values":[{"g":"CTR","g2":"Ltb⁺/⁺","v":1.2,"t":"***"},{"g":"Ltb⁺/⁺","g2":"Ltb⁻/⁻","v":1.09,"t":"*"}]},"mark":{"type":"text","baseline":"alphabetic","dy":4,"fontSize":11},
"encoding":{"x":{"field":"g","type":"nominal","bandPosition":1.214,"scale":{"domain":["CTR","Ltb⁺/⁺","Ltb⁻/⁻"],"paddingInner":0.3,"paddingOuter":0.15},"axis":{"title":null,"labelAngle":-45,"domainColor":"#888","tickColor":"#888"}},"y":{"field":"v","type":"quantitative"},"text":{"field":"t"}}},
{"data":{"values":[{"g":"Ltb⁺/⁺"}]},"mark":{"type":"text","baseline":"middle","fontSize":11},"encoding":{"y":{"datum":1.575},"text":{"value":"Pre B"}}},
{"data":{"values":[{"g":"Ltb⁺/⁺","g2":"Ltb⁻/⁻"}]},"mark":{"type":"rule","color":"black"},
"encoding":{"x":{"field":"g","type":"nominal","bandPosition":-0.2,"scale":{"domain":["CTR","Ltb⁺/⁺","Ltb⁻/⁻"],"paddingInner":0.3,"paddingOuter":0.15},"axis":{"title":null,"labelAngle":-45,"domainColor":"#888","tickColor":"#888"}},"x2":{"field":"g2","bandPosition":1.2},"y":{"datum":-0.54}}},
{"data":{"values":[{"g":"Ltb⁺/⁺"}]},"mark":{"type":"text","baseline":"middle","fontSize":10.5},
"encoding":{"x":{"field":"g","type":"nominal","bandPosition":1.214,"scale":{"domain":["CTR","Ltb⁺/⁺","Ltb⁻/⁻"],"paddingInner":0.3,"paddingOuter":0.15},"axis":{"title":null,"labelAngle":-45,"domainColor":"#888","tickColor":"#888"}},"y":{"datum":-0.66},"text":{"value":"ALL"}}}
]},
{"width":28,"height":1,"data":{"values":[]},"mark":"point"},
{"width":59,"height":100,
"encoding":{"x":{"field":"g","type":"nominal","scale":{"domain":["CTR","Ltb⁺/⁺","Ltb⁻/⁻"],"paddingInner":0.3,"paddingOuter":0.15},"axis":{"title":null,"labelAngle":-45,"domainColor":"#888","tickColor":"#888"}}},
"layer":[
{"data":{"values":[{"g":"CTR","v":0.165},{"g":"Ltb⁺/⁺","v":0.005},{"g":"Ltb⁻/⁻","v":0.035}]},"mark":{"type":"bar","stroke":"#555","strokeWidth":0.8},
"encoding":{"y":{"field":"v","type":"quantitative","scale":{"domain":[0,0.4],"nice":false},"axis":{"values":[0,0.1,0.2,0.3,0.4],"format":".1f","title":null,"domainColor":"#888","tickColor":"#888"}},
"color":{"field":"g","type":"nominal","scale":{"domain":["CTR","Ltb⁺/⁺","Ltb⁻/⁻"],"range":["#a7a9ac","#3ab54a","#a8742c"]},"legend":null}}},
{"data":{"values":[{"g":"CTR","v":0.335},{"g":"CTR","v":0.275},{"g":"CTR","v":0.205},{"g":"CTR","v":0.13},{"g":"CTR","v":0.1},{"g":"CTR","v":0.1},{"g":"CTR","v":0.085},{"g":"CTR","v":0.07},
{"g":"Ltb⁺/⁺","v":0.015},{"g":"Ltb⁺/⁺","v":0.01},{"g":"Ltb⁺/⁺","v":0.008},{"g":"Ltb⁺/⁺","v":0.006},{"g":"Ltb⁺/⁺","v":0.005},{"g":"Ltb⁺/⁺","v":0.004},{"g":"Ltb⁺/⁺","v":0.003},
{"g":"Ltb⁻/⁻","v":0.09},{"g":"Ltb⁻/⁻","v":0.055},{"g":"Ltb⁻/⁻","v":0.04},{"g":"Ltb⁻/⁻","v":0.03},{"g":"Ltb⁻/⁻","v":0.012},{"g":"Ltb⁻/⁻","v":0.01},{"g":"Ltb⁻/⁻","v":0.008}]},
"mark":{"type":"point","fill":"white","stroke":"#666","strokeWidth":0.8,"size":22,"opacity":1},"encoding":{"y":{"field":"v","type":"quantitative"}}},
{"data":{"values":[{"g":"CTR","g2":"Ltb⁺/⁺","v":0.367,"t":"***"},{"g":"Ltb⁺/⁺","g2":"Ltb⁻/⁻","v":0.34,"t":"*"}]},"mark":{"type":"rule","color":"black"},"encoding":{"x2":{"field":"g2"},"y":{"field":"v","type":"quantitative"}}},
{"data":{"values":[{"g":"CTR","g2":"Ltb⁺/⁺","v":0.367,"t":"***"},{"g":"Ltb⁺/⁺","g2":"Ltb⁻/⁻","v":0.34,"t":"*"}]},"mark":{"type":"text","baseline":"alphabetic","dy":4,"fontSize":11},
"encoding":{"x":{"field":"g","type":"nominal","bandPosition":1.214,"scale":{"domain":["CTR","Ltb⁺/⁺","Ltb⁻/⁻"],"paddingInner":0.3,"paddingOuter":0.15},"axis":{"title":null,"labelAngle":-45,"domainColor":"#888","tickColor":"#888"}},"y":{"field":"v","type":"quantitative"},"text":{"field":"t"}}},
{"data":{"values":[{"g":"Ltb⁺/⁺"}]},"mark":{"type":"text","baseline":"middle","fontSize":11},"encoding":{"y":{"datum":0.425},"text":{"value":"Imm. B"}}},
{"data":{"values":[{"g":"Ltb⁺/⁺","g2":"Ltb⁻/⁻"}]},"mark":{"type":"rule","color":"black"},
"encoding":{"x":{"field":"g","type":"nominal","bandPosition":-0.2,"scale":{"domain":["CTR","Ltb⁺/⁺","Ltb⁻/⁻"],"paddingInner":0.3,"paddingOuter":0.15},"axis":{"title":null,"labelAngle":-45,"domainColor":"#888","tickColor":"#888"}},"x2":{"field":"g2","bandPosition":1.2},"y":{"datum":-0.144}}},
{"data":{"values":[{"g":"Ltb⁺/⁺"}]},"mark":{"type":"text","baseline":"middle","fontSize":10.5},
"encoding":{"x":{"field":"g","type":"nominal","bandPosition":1.214,"scale":{"domain":["CTR","Ltb⁺/⁺","Ltb⁻/⁻"],"paddingInner":0.3,"paddingOuter":0.15},"axis":{"title":null,"labelAngle":-45,"domainColor":"#888","tickColor":"#888"}},"y":{"datum":-0.176},"text":{"value":"ALL"}}}
]},
{"width":40,"height":1,"data":{"values":[]},"mark":"point"},
{"width":40,"height":100,"title":{"text":"P","dx":-32,"dy":4},
"encoding":{"x":{"field":"g","type":"nominal","scale":{"domain":["Ltb⁺/⁺","Ltb⁻/⁻"],"paddingInner":0.4,"paddingOuter":0.25},"axis":{"title":null,"labelAngle":-45}}},
"layer":[
{"data":{"values":[{"g":"Ltb⁺/⁺","v":0.53},{"g":"Ltb⁻/⁻","v":0.03}]},"mark":{"type":"bar","stroke":"#333","strokeWidth":0.8},
"encoding":{"y":{"field":"v","type":"quantitative","scale":{"domain":[0,1.5],"nice":false},"axis":{"values":[0,0.5,1,1.5],"format":".1f","title":"ALL cells (x 10⁻⁶)"}},
"color":{"field":"g","type":"nominal","scale":{"domain":["Ltb⁺/⁺","Ltb⁻/⁻"],"range":["#3ab54a","#a8742c"]},"legend":null}}},
{"data":{"values":[{"g":"Ltb⁺/⁺","v":1.08},{"g":"Ltb⁺/⁺","v":0.82},{"g":"Ltb⁺/⁺","v":0.62},{"g":"Ltb⁺/⁺","v":0.45},{"g":"Ltb⁺/⁺","v":0.42},{"g":"Ltb⁺/⁺","v":0.4},{"g":"Ltb⁺/⁺","v":0.3},{"g":"Ltb⁺/⁺","v":0.25},
{"g":"Ltb⁻/⁻","v":0.08},{"g":"Ltb⁻/⁻","v":0.06},{"g":"Ltb⁻/⁻","v":0.05},{"g":"Ltb⁻/⁻","v":0.04},{"g":"Ltb⁻/⁻","v":0.03},{"g":"Ltb⁻/⁻","v":0.03},{"g":"Ltb⁻/⁻","v":0.02}]},
"mark":{"type":"point","fill":"white","stroke":"#666","strokeWidth":0.8,"size":22,"opacity":1},"encoding":{"y":{"field":"v","type":"quantitative"}}},
{"data":{"values":[{"g":"Ltb⁺/⁺","g2":"Ltb⁻/⁻","v":1.24,"t":"**"}]},"mark":{"type":"rule","color":"black"},"encoding":{"x2":{"field":"g2"},"y":{"field":"v","type":"quantitative"}}},
{"data":{"values":[{"g":"Ltb⁺/⁺","g2":"Ltb⁻/⁻","v":1.24,"t":"**"}]},"mark":{"type":"text","baseline":"alphabetic","dy":4,"fontSize":11},
"encoding":{"x":{"field":"g","type":"nominal","bandPosition":1.333,"scale":{"domain":["Ltb⁺/⁺","Ltb⁻/⁻"],"paddingInner":0.4,"paddingOuter":0.25},"axis":{"title":null,"labelAngle":-45}},"y":{"field":"v","type":"quantitative"},"text":{"field":"t"}}}
]},
{"width":39,"height":1,"data":{"values":[]},"mark":"point"},
{"width":144,"height":100,"title":{"text":"Q","dx":-37,"dy":4},
"layer":[
{"data":{"values":[{"s":"Ltb⁺/⁺","d":0,"p":100},{"s":"Ltb⁺/⁺","d":35,"p":85.7},{"s":"Ltb⁺/⁺","d":47,"p":42.9},{"s":"Ltb⁺/⁺","d":51,"p":28.6},{"s":"Ltb⁺/⁺","d":54,"p":14.3},{"s":"Ltb⁺/⁺","d":55,"p":0},
{"s":"Ltb⁻/⁻","d":0,"p":100},{"s":"Ltb⁻/⁻","d":50,"p":85.7},{"s":"Ltb⁻/⁻","d":65,"p":71.4},{"s":"Ltb⁻/⁻","d":70,"p":57.1},{"s":"Ltb⁻/⁻","d":73,"p":42.9},{"s":"Ltb⁻/⁻","d":84,"p":28.6},{"s":"Ltb⁻/⁻","d":87,"p":14.3},{"s":"Ltb⁻/⁻","d":90,"p":0}]},
"mark":{"type":"line","interpolate":"step-after","strokeWidth":1.5},
"encoding":{"x":{"field":"d","type":"quantitative","scale":{"domain":[0,100],"nice":false},"axis":{"values":[0,20,40,60,80,100],"title":"Days"}},
"y":{"field":"p","type":"quantitative","scale":{"domain":[0,100],"nice":false},"axis":{"values":[0,20,40,60,80,100],"title":"Percent survival"}},
"stroke":{"field":"s","type":"nominal","scale":{"domain":["Ltb⁺/⁺","Ltb⁻/⁻"],"range":["#3cb44b","#9c5b2c"]},"legend":null}}},
{"data":{"values":[{"s":"Ltb⁺/⁺","d":35,"p":85.7},{"s":"Ltb⁺/⁺","d":47,"p":42.9},{"s":"Ltb⁺/⁺","d":51,"p":28.6},{"s":"Ltb⁺/⁺","d":54,"p":14.3},{"s":"Ltb⁺/⁺","d":55,"p":0},
{"s":"Ltb⁻/⁻","d":50,"p":85.7},{"s":"Ltb⁻/⁻","d":65,"p":71.4},{"s":"Ltb⁻/⁻","d":70,"p":57.1},{"s":"Ltb⁻/⁻","d":73,"p":42.9},{"s":"Ltb⁻/⁻","d":84,"p":28.6},{"s":"Ltb⁻/⁻","d":87,"p":14.3},{"s":"Ltb⁻/⁻","d":90,"p":0}]},
"mark":{"type":"point","filled":true,"stroke":"#222","strokeWidth":0.8,"size":22,"opacity":1},
"encoding":{"x":{"field":"d","type":"quantitative"},"y":{"field":"p","type":"quantitative"},
"fill":{"field":"s","type":"nominal","scale":{"domain":["Ltb⁺/⁺","Ltb⁻/⁻"],"range":["#3cb44b","#9c5b2c"]},"legend":null}}},
{"data":{"values":[{}]},"mark":{"type":"rule","color":"#3cb44b","strokeWidth":1.5},"encoding":{"x":{"datum":0.5},"x2":{"datum":7.5},"y":{"datum":87}}},
{"data":{"values":[{}]},"mark":{"type":"point","filled":true,"fill":"#3cb44b","stroke":"#222","strokeWidth":0.8,"size":26,"opacity":1},"encoding":{"x":{"datum":4},"y":{"datum":87}}},
{"data":{"values":[{}]},"mark":{"type":"text","align":"left","baseline":"middle","fontSize":12,"fontStyle":"italic"},"encoding":{"x":{"datum":10},"y":{"datum":87},"text":{"value":"Ltb⁺/⁺"}}},
{"data":{"values":[{}]},"mark":{"type":"rule","color":"#9c5b2c","strokeWidth":1.5},"encoding":{"x":{"datum":0.5},"x2":{"datum":7.5},"y":{"datum":77}}},
{"data":{"values":[{}]},"mark":{"type":"point","filled":true,"fill":"#9c5b2c","stroke":"#222","strokeWidth":0.8,"size":26,"opacity":1},"encoding":{"x":{"datum":4},"y":{"datum":77}}},
{"data":{"values":[{}]},"mark":{"type":"text","align":"left","baseline":"middle","fontSize":12,"fontStyle":"italic"},"encoding":{"x":{"datum":10},"y":{"datum":77},"text":{"value":"Ltb⁻/⁻"}}},
{"data":{"values":[{}]},"mark":{"type":"text","align":"left","baseline":"middle","fontSize":9.5},"encoding":{"x":{"datum":3},"y":{"datum":55},"text":{"value":"(n=7/group)"}}},
{"data":{"values":[{}]},"mark":{"type":"text","align":"left","baseline":"middle","fontSize":12},"encoding":{"x":{"datum":4},"y":{"datum":10},"text":{"value":"p=0.0031"}}}
]}
]},

{"bounds":"flush","spacing":0,"resolve":{"scale":{"color":"independent","fill":"independent","stroke":"independent"}},
"hconcat":[
{"width":37,"height":1,"data":{"values":[]},"mark":"point"},
{"width":47,"height":99,"title":{"text":"R","dx":-42,"dy":4},
"encoding":{"x":{"field":"g","type":"nominal","scale":{"domain":["Ltb⁺/⁺","Ltb⁻/⁻","3xLtb⁻/⁻"],"paddingInner":0.3,"paddingOuter":0.15},"axis":{"title":null,"labelAngle":-45}}},
"layer":[
{"data":{"values":[{"g":"Ltb⁺/⁺","v":0.342},{"g":"Ltb⁻/⁻","v":0.02},{"g":"3xLtb⁻/⁻","v":0.36}]},"mark":{"type":"bar","stroke":"#333","strokeWidth":0.8},
"encoding":{"y":{"field":"v","type":"quantitative","scale":{"domain":[0,0.6],"nice":false},"axis":{"values":[0,0.2,0.4,0.6],"format":".1f","title":"ALL cells (x 10⁻⁶)"}},
"color":{"field":"g","type":"nominal","scale":{"domain":["Ltb⁺/⁺","Ltb⁻/⁻","3xLtb⁻/⁻"],"range":["#3ab54a","#a8742c","#b8202e"]},"legend":null}}},
{"data":{"values":[{"g":"Ltb⁺/⁺","v":0.42},{"g":"Ltb⁺/⁺","v":0.4},{"g":"Ltb⁺/⁺","v":0.37},{"g":"Ltb⁺/⁺","v":0.25},{"g":"Ltb⁺/⁺","v":0.23},
{"g":"Ltb⁻/⁻","v":0.08},{"g":"Ltb⁻/⁻","v":0.06},{"g":"Ltb⁻/⁻","v":0.05},{"g":"Ltb⁻/⁻","v":0.04},{"g":"Ltb⁻/⁻","v":0.03},{"g":"Ltb⁻/⁻","v":0.02},{"g":"Ltb⁻/⁻","v":0.01},
{"g":"3xLtb⁻/⁻","v":0.49},{"g":"3xLtb⁻/⁻","v":0.43},{"g":"3xLtb⁻/⁻","v":0.33},{"g":"3xLtb⁻/⁻","v":0.31},{"g":"3xLtb⁻/⁻","v":0.31}]},
"mark":{"type":"point","fill":"white","stroke":"#666","strokeWidth":0.8,"size":22,"opacity":1},"encoding":{"y":{"field":"v","type":"quantitative"}}},
{"data":{"values":[{"g":"Ltb⁺/⁺","g2":"Ltb⁻/⁻","v":0.55,"t":"***"},{"g":"Ltb⁻/⁻","g2":"3xLtb⁻/⁻","v":0.55,"t":"***"}]},"mark":{"type":"rule","color":"black"},"encoding":{"x2":{"field":"g2"},"y":{"field":"v","type":"quantitative"}}},
{"data":{"values":[{"g":"Ltb⁺/⁺","g2":"Ltb⁻/⁻","v":0.55,"t":"***"},{"g":"Ltb⁻/⁻","g2":"3xLtb⁻/⁻","v":0.55,"t":"***"}]},"mark":{"type":"text","baseline":"alphabetic","dy":4,"fontSize":10},
"encoding":{"x":{"field":"g","type":"nominal","bandPosition":1.214,"scale":{"domain":["Ltb⁺/⁺","Ltb⁻/⁻","3xLtb⁻/⁻"],"paddingInner":0.3,"paddingOuter":0.15},"axis":{"title":null,"labelAngle":-45}},"y":{"field":"v","type":"quantitative"},"text":{"field":"t"}}},
{"data":{"values":[{"g":"Ltb⁺/⁺","g2":"3xLtb⁻/⁻"}]},"mark":{"type":"rule","color":"black"},
"encoding":{"x":{"field":"g","type":"nominal","bandPosition":-0.2,"scale":{"domain":["Ltb⁺/⁺","Ltb⁻/⁻","3xLtb⁻/⁻"],"paddingInner":0.3,"paddingOuter":0.15},"axis":{"title":null,"labelAngle":-45}},"x2":{"field":"g2","bandPosition":1.2},"y":{"datum":-0.224}}},
{"data":{"values":[{"g":"Ltb⁻/⁻"}]},"mark":{"type":"text","baseline":"middle","fontSize":10.5},"encoding":{"y":{"datum":-0.273},"text":{"value":"ALL"}}}
]},
{"width":68,"height":1,"data":{"values":[]},"mark":"point"},
{"width":65,"height":101,"title":{"text":"S","dx":-52,"dy":5.5},
"encoding":{"x":{"field":"g","type":"nominal","scale":{"domain":["CTR","Ltb⁺/⁺","Ltb⁻/⁻","3xLtb⁻/⁻"],"paddingInner":0.3,"paddingOuter":0.15},"axis":{"title":null,"labelAngle":-45}}},
"layer":[
{"data":{"values":[{"g":"CTR","v":100},{"g":"Ltb⁺/⁺","v":85},{"g":"Ltb⁻/⁻","v":99},{"g":"3xLtb⁻/⁻","v":97}]},"mark":{"type":"bar","stroke":"#333","strokeWidth":0.8},
"encoding":{"y":{"field":"v","type":"quantitative","scale":{"domain":[0,120],"nice":false},"axis":{"values":[0,20,40,60,80,100,120],"title":["Il7-GFP Geo Mean","(% of control)"]}},
"color":{"field":"g","type":"nominal","scale":{"domain":["CTR","Ltb⁺/⁺","Ltb⁻/⁻","3xLtb⁻/⁻"],"range":["#a7a9ac","#3ab54a","#a8742c","#b8202e"]},"legend":null}}},
{"data":{"values":[{"g":"CTR","v":104},{"g":"CTR","v":102},{"g":"CTR","v":101},{"g":"CTR","v":99},{"g":"CTR","v":98},{"g":"CTR","v":96},
{"g":"Ltb⁺/⁺","v":89},{"g":"Ltb⁺/⁺","v":88},{"g":"Ltb⁺/⁺","v":87},{"g":"Ltb⁺/⁺","v":86},{"g":"Ltb⁺/⁺","v":85},{"g":"Ltb⁺/⁺","v":84},
{"g":"Ltb⁻/⁻","v":106},{"g":"Ltb⁻/⁻","v":104},{"g":"Ltb⁻/⁻","v":102},{"g":"Ltb⁻/⁻","v":99},{"g":"Ltb⁻/⁻","v":96},{"g":"Ltb⁻/⁻","v":92},
{"g":"3xLtb⁻/⁻","v":102},{"g":"3xLtb⁻/⁻","v":100},{"g":"3xLtb⁻/⁻","v":98},{"g":"3xLtb⁻/⁻","v":97},{"g":"3xLtb⁻/⁻","v":95},{"g":"3xLtb⁻/⁻","v":94}]},
"mark":{"type":"point","fill":"white","stroke":"#666","strokeWidth":0.8,"size":22,"opacity":1},"encoding":{"y":{"field":"v","type":"quantitative"}}},
{"data":{"values":[{"g":"CTR","g2":"Ltb⁺/⁺","v":119,"t":"***"},{"g":"Ltb⁺/⁺","g2":"Ltb⁻/⁻","v":112,"t":"***"},{"g":"Ltb⁻/⁻","g2":"3xLtb⁻/⁻","v":112,"t":"n.s."}]},"mark":{"type":"rule","color":"black"},"encoding":{"x2":{"field":"g2"},"y":{"field":"v","type":"quantitative"}}},
{"data":{"values":[{"g":"CTR","g2":"Ltb⁺/⁺","v":119,"t":"***"},{"g":"Ltb⁺/⁺","g2":"Ltb⁻/⁻","v":112,"t":"***"},{"g":"Ltb⁻/⁻","g2":"3xLtb⁻/⁻","v":112,"t":"n.s."}]},"transform":[{"filter":"datum.t != 'n.s.'"}],"mark":{"type":"text","baseline":"alphabetic","dy":4,"fontSize":10},
"encoding":{"x":{"field":"g","type":"nominal","bandPosition":1.214,"scale":{"domain":["CTR","Ltb⁺/⁺","Ltb⁻/⁻","3xLtb⁻/⁻"],"paddingInner":0.3,"paddingOuter":0.15},"axis":{"title":null,"labelAngle":-45}},"y":{"field":"v","type":"quantitative"},"text":{"field":"t"}}},
{"data":{"values":[{"g":"CTR","g2":"Ltb⁺/⁺","v":119,"t":"***"},{"g":"Ltb⁺/⁺","g2":"Ltb⁻/⁻","v":112,"t":"***"},{"g":"Ltb⁻/⁻","g2":"3xLtb⁻/⁻","v":112,"t":"n.s."}]},"transform":[{"filter":"datum.t == 'n.s.'"}],"mark":{"type":"text","baseline":"bottom","dy":-1,"fontSize":9.5},
"encoding":{"x":{"field":"g","type":"nominal","bandPosition":1.214,"scale":{"domain":["CTR","Ltb⁺/⁺","Ltb⁻/⁻","3xLtb⁻/⁻"],"paddingInner":0.3,"paddingOuter":0.15},"axis":{"title":null,"labelAngle":-45}},"y":{"field":"v","type":"quantitative"},"text":{"field":"t"}}},
{"data":{"values":[{"g":"Ltb⁺/⁺","g2":"3xLtb⁻/⁻"}]},"mark":{"type":"rule","color":"black"},
"encoding":{"x":{"field":"g","type":"nominal","bandPosition":-0.2,"scale":{"domain":["CTR","Ltb⁺/⁺","Ltb⁻/⁻","3xLtb⁻/⁻"],"paddingInner":0.3,"paddingOuter":0.15},"axis":{"title":null,"labelAngle":-45}},"x2":{"field":"g2","bandPosition":1.2},"y":{"datum":-42.8}}},
{"data":{"values":[{"g":"Ltb⁻/⁻"}]},"mark":{"type":"text","baseline":"middle","fontSize":10.5},"encoding":{"y":{"datum":-51.1},"text":{"value":"ALL"}}}
]}
]}
]
}
